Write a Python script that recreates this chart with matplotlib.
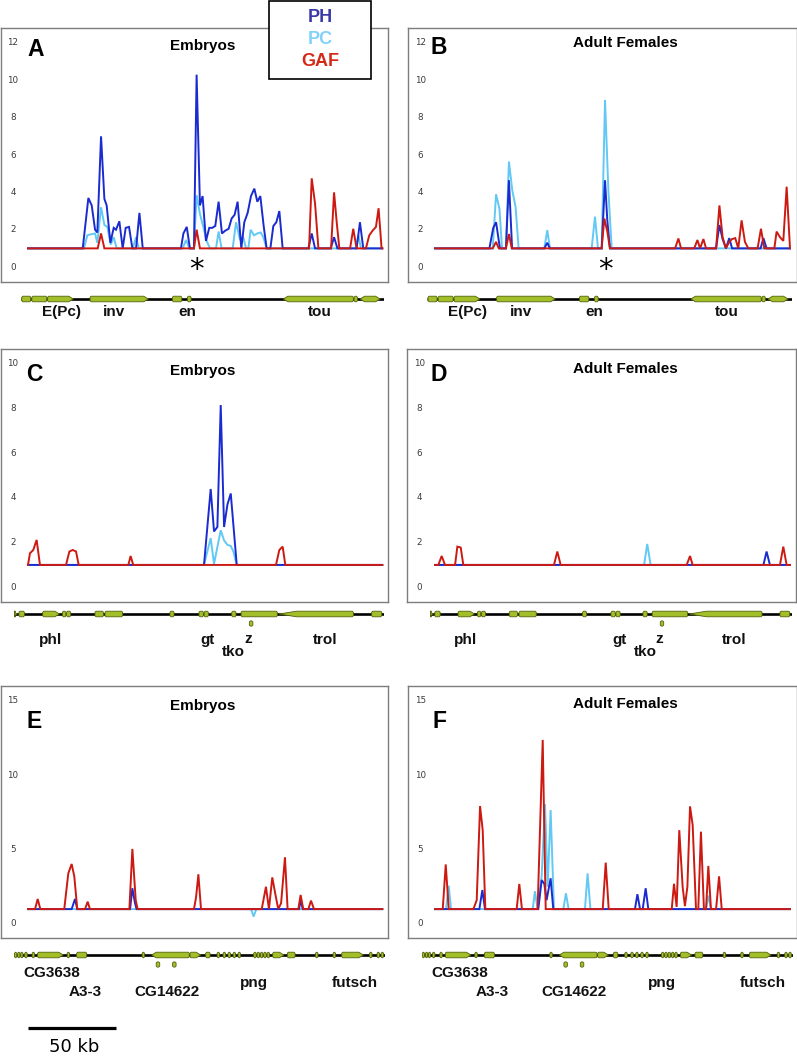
import matplotlib
matplotlib.use('Agg')
import matplotlib.pyplot as plt
from matplotlib.patches import Polygon, Rectangle
from matplotlib.lines import Line2D
from matplotlib.transforms import blended_transform_factory

# ---------------- DATA (positions in kb, values = enrichment) ----------------
# Panel A (Embryos, en/inv region)
PH_A_x = [31.1, 34.3, 36.2, 38.1, 39.4, 41.5, 43.4, 44.7, 46.8, 48.7, 50.0, 51.9, 53.8, 55.5, 57.4, 59.3,
          61.4, 63.3, 65.2, 86.9, 88.3, 90.2, 92.0, 94.3, 95.8, 97.7, 99.2, 101.1, 103.0, 104.7, 106.4,
          108.3, 110.2, 112.1, 114.0, 115.7, 117.4, 119.1, 121.2, 122.9, 124.8, 126.7, 128.6, 130.3,
          132.0, 133.9, 135.6, 137.7, 139.4, 141.1, 142.8, 144.7, 159.3, 161.2, 163.1, 172.0, 173.9,
          175.8, 186.7, 188.6, 190.5]
PH_A_y = [1.0, 3.7, 3.3, 2.0, 1.85, 7.0, 3.65, 3.3, 1.3, 2.1, 2.0, 2.45, 1.0, 2.1, 2.15, 1.0,
          1.0, 2.9, 1.0, 1.0, 1.8, 2.15, 1.0, 1.0, 10.3, 3.3, 3.8, 1.4, 2.1, 2.1, 2.2,
          3.5, 1.8, 1.95, 2.05, 2.6, 2.8, 3.5, 1.0, 2.4, 2.9, 3.8, 4.2, 3.5,
          3.8, 2.2, 1.0, 1.0, 2.2, 2.4, 3.0, 1.0, 1.0, 1.8, 1.0, 1.0, 1.6,
          1.0, 1.0, 2.4, 1.0]
PC_A_x = [31.8, 33.7, 35.6, 38.1, 39.4, 41.5, 43.4, 45.1, 47.0, 48.7, 50.4, 59.5, 61.4, 62.9, 87.9,
          89.8, 91.7, 94.3, 95.8, 97.7, 99.6, 101.5, 103.4, 106.8, 108.3, 110.0, 116.3, 118.2, 120.5,
          122.3, 123.9, 125.2, 126.5, 128.4, 130.3, 132.2, 133.7, 135.6, 186.4, 187.7, 189.2]
PC_A_y = [1.0, 1.7, 1.75, 1.8, 1.3, 3.2, 2.25, 2.15, 1.2, 1.6, 1.0, 1.0, 1.6, 1.0, 1.0,
          1.45, 1.0, 1.0, 3.85, 2.85, 2.15, 1.4, 1.0, 1.0, 1.9, 1.0, 1.0, 2.4, 1.45,
          1.6, 1.0, 1.0, 2.0, 1.7, 1.8, 1.85, 1.6, 1.0, 1.0, 1.7, 1.0]
GAF_A_x = [39.6, 41.5, 43.4, 94.3, 95.8, 97.7, 159.7, 161.2, 163.1, 165.0, 172.2, 173.9, 175.4, 176.9,
           183.0, 184.8, 186.7, 192.0, 193.9, 195.8, 197.7, 199.2, 200.9]
GAF_A_y = [1.0, 1.8, 1.0, 1.0, 2.0, 1.0, 1.0, 4.75, 3.4, 1.0, 1.0, 4.0, 2.4, 1.0,
           1.0, 2.05, 1.0, 1.0, 1.7, 1.95, 2.15, 3.15, 1.0]

# Panel B (Adult females, en/inv region)
PH_B_x = [30.9, 33.1, 34.7, 36.9, 40.3, 42.0, 43.8, 62.1, 63.8, 65.3, 94.7, 96.6, 97.9, 99.4,
          159.7, 161.6, 163.4, 165.3, 167.2, 168.8, 185.0, 186.6, 188.4]
PH_B_y = [1.0, 2.1, 2.4, 1.0, 1.0, 4.65, 1.0, 1.0, 1.3, 1.0, 1.0, 4.65, 2.5, 1.0,
          1.0, 2.25, 1.5, 1.0, 1.55, 1.0, 1.0, 1.55, 1.0]
PC_B_x = [32.8, 34.7, 36.6, 38.1, 40.3, 42.0, 43.9, 45.8, 47.5, 62.1, 63.8, 65.3, 89.0, 90.9, 92.6,
          94.7, 96.6, 98.5, 100.4]
PC_B_y = [1.0, 3.9, 3.13, 1.0, 1.0, 5.65, 4.12, 3.2, 1.0, 1.0, 1.98, 1.0, 1.0, 2.7, 1.0,
          1.0, 8.95, 4.1, 1.0]
GAF_B_x = [32.8, 34.7, 36.2, 40.3, 42.0, 43.6, 94.7, 96.2, 97.9, 99.4, 136.4, 138.3, 139.8, 147.3,
           149.1, 150.6, 152.5, 154.0, 159.7, 161.6, 163.4, 165.3, 167.2, 168.8, 170.6, 172.3, 174.2,
           176.1, 178.0, 183.3, 185.2, 187.1, 192.8, 194.1, 196.0, 197.9, 199.8, 201.7]
GAF_B_y = [1.0, 1.35, 1.0, 1.0, 1.77, 1.0, 1.0, 2.6, 1.9, 1.0, 1.0, 1.53, 1.0, 1.0,
           1.45, 1.0, 1.5, 1.0, 1.0, 3.3, 1.6, 1.0, 1.35, 1.5, 1.55, 1.0, 2.5,
           1.35, 1.0, 1.0, 2.05, 1.0, 1.0, 1.9, 1.6, 1.4, 4.3, 1.0]

# Panel C (Embryos, gt/z region)
PH_C_x = [100.0, 103.8, 105.7, 107.6, 109.5, 111.4, 113.3, 115.2, 118.6]
PH_C_y = [1.0, 4.4, 2.5, 2.7, 8.16, 2.7, 3.7, 4.2, 1.0]
PC_C_x = [100.0, 103.8, 105.7, 109.5, 111.4, 113.3, 115.2, 116.7, 118.6]
PC_C_y = [1.0, 2.2, 1.05, 2.55, 2.1, 1.9, 1.85, 1.6, 1.0]
GAF_C_x = [0.0, 1.1, 3.0, 4.9, 6.8, 21.6, 23.5, 25.4, 27.3, 28.8, 57.0, 58.3, 59.8, 140.9, 142.8,
           144.7, 146.2]
GAF_C_y = [1.0, 1.52, 1.67, 2.12, 1.0, 1.0, 1.6, 1.67, 1.6, 1.0, 1.0, 1.4, 1.0, 1.0, 1.67,
           1.82, 1.0]

# Panel D (Adult females, gt/z region)
PH_D_x = [186.6, 188.4, 190.3]
PH_D_y = [1.0, 1.6, 1.0]
PC_D_x = [118.8, 120.6, 122.5]
PC_D_y = [1.0, 1.94, 1.0]
GAF_D_x = [1.9, 3.8, 5.7, 11.4, 12.7, 14.6, 16.1, 67.6, 69.5, 71.4, 143.0, 144.9, 146.4, 196.0,
           197.9, 199.8]
GAF_D_y = [1.0, 1.4, 1.0, 1.0, 1.82, 1.78, 1.0, 1.0, 1.6, 1.0, 1.0, 1.4, 1.0, 1.0, 1.82, 1.0]

# Panel E (Embryos, png region)
PH_E_x = [24.8, 26.7, 28.0, 58.0, 59.3, 60.8, 61.7, 154.0, 154.9, 156.1]
PH_E_y = [1.0, 1.68, 1.0, 1.0, 2.4, 1.4, 1.0, 1.0, 1.6, 1.0]
PC_E_x = [126.7, 128.2, 129.7]
PC_E_y = [1.0, 0.5, 1.0]
GAF_E_x = [4.0, 5.5, 7.0, 20.6, 22.9, 24.8, 26.3, 28.0, 32.4, 33.9, 35.2, 57.6, 59.3, 61.2, 62.3,
           94.3, 95.5, 96.8, 98.3, 132.8, 135.2, 136.9, 138.8, 140.7, 142.2, 143.8, 146.0, 147.5,
           153.6, 154.9, 156.4, 159.3, 160.8, 162.5]
GAF_E_y = [1.0, 1.68, 1.0, 1.0, 3.4, 4.03, 3.2, 1.0, 1.0, 1.5, 1.0, 1.0, 5.04, 1.6, 1.0,
           1.0, 1.8, 3.34, 1.0, 1.0, 2.5, 1.0, 3.13, 1.9, 1.0, 1.4, 4.48, 1.0,
           1.0, 1.95, 1.0, 1.0, 1.57, 1.0]

# Panel F (Adult females, png region)
PH_F_x = [25.2, 26.9, 28.4, 58.7, 60.6, 62.1, 63.4, 65.7, 67.2, 113.6, 115.0, 116.5, 118.0, 119.7, 121.2]
PH_F_y = [1.0, 2.28, 1.0, 1.0, 2.95, 2.7, 1.6, 3.07, 1.0, 1.0, 2.0, 1.0, 1.0, 2.4, 1.0]
PC_F_x = [6.25, 7.8, 9.1, 55.5, 56.8, 58.3, 60.6, 62.5, 64.0, 65.7, 67.6, 72.9, 74.4, 75.9, 85.2,
          86.7, 88.3, 154.0, 155.3, 156.8]
PC_F_y = [1.0, 2.57, 1.0, 1.0, 2.2, 1.0, 3.2, 8.05, 2.5, 7.65, 1.0, 1.0, 2.06, 1.0, 1.0,
          3.4, 1.0, 1.0, 1.9, 1.0]
GAF_F_x = [4.4, 6.1, 7.8, 21.8, 23.7, 25.6, 27.1, 28.6, 46.4, 47.9, 49.4, 58.3, 61.2, 62.9, 95.3,
           97.0, 98.7, 134.5, 135.8, 137.3, 138.8, 140.7, 142.0, 143.4, 144.9, 146.4, 148.3, 149.6,
           151.1, 152.8, 154.0, 155.3, 156.8, 159.7, 161.4, 162.9]
GAF_F_y = [1.0, 4.0, 1.0, 1.0, 1.6, 7.92, 6.3, 1.0, 1.0, 2.69, 1.0, 1.0, 12.36, 1.0, 1.0,
           4.12, 1.0, 1.0, 2.7, 1.15, 6.3, 2.5, 1.2, 2.5, 7.9, 6.65, 1.0, 1.0,
           6.2, 1.0, 1.0, 3.9, 1.0, 1.0, 3.2, 1.0]

# Gene models (track-local kb): (start, end, shape)  r=round, tr=taper right, tl=taper left, tb=both
GENES_1 = [(0.6, 5.7, 'r'), (6.3, 14.8, 'r'), (15.3, 29.9, 'tr'), (39.4, 72.5, 'tr'),
           (86.2, 91.5, 'r'), (94.7, 96.8, 'r'), (149.2, 189.0, 'tl'), (189.4, 191.3, 'r'),
           (192.8, 204.2, 'tb')]
LABELS_1 = ['E(Pc)', 'inv', 'en', 'tou']
LABX_1 = [22.9, 53.0, 94.7, 169.7]
LABDY_1 = [13, 13, 13, 13]
GENES_2 = [(0.4, 1.9, 'tr'), (2.8, 5.9, 'r'), (16.3, 25.8, 'tr'), (27.5, 29.5, 'r'), (29.9, 32.2, 'r'),
           (46.0, 50.8, 'r'), (51.7, 61.7, 'r'), (88.6, 90.9, 'r'), (105.1, 107.6, 'r'),
           (108.0, 110.4, 'r'), (123.7, 126.1, 'r'), (129.0, 149.6, 'r'), (150.5, 192.8, 'tl2'),
           (203.2, 208.9, 'r')]
GENES_2_BELOW = [134.7]
LABELS_2 = ['phl', 'gt', 'tko', 'z', 'trol']
LABX_2 = [20.8, 109.8, 124.8, 133.3, 176.7]
LABDY_2 = [26, 26, 38, 25, 26]
GENES_3 = [(0.3, 1.6, 'r'), (2.1, 3.4, 'r'), (3.8, 5.1, 'r'), (6.1, 7.5, 'r'), (10.3, 11.7, 'r'),
           (13.4, 28.0, 'tr'), (30.2, 31.6, 'r'), (35.6, 41.3, 'r'), (72.8, 74.2, 'r'),
           (78.2, 99.6, 'tl'), (100.0, 106.1, 'tr'), (108.9, 111.4, 'r'), (115.4, 116.8, 'r'),
           (118.8, 120.2, 'r'), (121.6, 123.0, 'r'), (124.5, 125.9, 'r'), (127.3, 128.7, 'r'),
           (136.2, 137.6, 'r'), (138.1, 139.5, 'r'), (140.0, 141.4, 'r'), (141.9, 143.3, 'r'),
           (143.8, 145.2, 'r'), (147.0, 153.4, 'tr'), (155.3, 159.7, 'r'), (171.3, 172.7, 'r'),
           (181.3, 182.7, 'r'), (186.2, 198.5, 'tr'), (202.0, 203.4, 'r'), (206.3, 207.7, 'r'),
           (208.6, 210.0, 'r')]
GENES_3_BELOW = [81.8, 91.1]
LABELS_3 = ['CG3638', 'A3-3', 'CG14622', 'png', 'futsch']
LABX_3 = [21.4, 40.3, 86.7, 136.4, 193.8]
LABDY_3 = [18, 37, 37, 28, 28]

SERIES_NAMES = ['PH', 'PC', 'GAF']

# ---------------- STYLE ----------------
W, H = 797, 1056
fig = plt.figure(figsize=(W / 100, H / 100), dpi=100)
C_PH, C_PC, C_GAF = '#1a2bd0', '#62c8f4', '#cc1a12'
LEG_COL = {'PH': '#3a3aa6', 'PC': '#80d2fa', 'GAF': '#d32a18'}
GREEN, GEDGE = '#a2be28', '#52620c'
BOLD = dict(family='Liberation Sans', fontweight='bold')


def px_axes(x0, y0, x1, y1, **kw):
    return fig.add_axes([x0 / W, 1 - y1 / H, (x1 - x0) / W, (y1 - y0) / H], **kw)


def ftext(x, y, s, **kw):
    return fig.text(x / W, 1 - y / H, s, **kw)


panels = [
    dict(box=(0.5, 28, 388, 282), x0=28, end=201.3, ylim=(-0.80, 12.80), ticks=[0, 2, 4, 6, 8, 10, 12],
         s=(PH_A_x, PH_A_y, PC_A_x, PC_A_y, GAF_A_x, GAF_A_y), L='A', Lp=(27, 50), T='Embryos', Tp=(203, 46),
         ast=95.8),
    dict(box=(408, 28, 796.5, 282), x0=435, end=201.7, ylim=(-0.80, 12.80), ticks=[0, 2, 4, 6, 8, 10, 12],
         s=(PH_B_x, PH_B_y, PC_B_x, PC_B_y, GAF_B_x, GAF_B_y), L='B', Lp=(430, 47.5), T='Adult Females',
         Tp=(625, 43), ast=96.8),
    dict(box=(0.5, 349, 388, 602), x0=28, end=201.3, ylim=(-0.66, 10.67), ticks=[0, 2, 4, 6, 8, 10],
         s=(PH_C_x, PH_C_y, PC_C_x, PC_C_y, GAF_C_x, GAF_C_y), L='C', Lp=(26, 374.5), T='Embryos',
         Tp=(203, 371), ast=None),
    dict(box=(407, 349, 796.5, 602), x0=435, end=201.7, ylim=(-0.66, 10.67), ticks=[0, 2, 4, 6, 8, 10],
         s=(PH_D_x, PH_D_y, PC_D_x, PC_D_y, GAF_D_x, GAF_D_y), L='D', Lp=(431, 374), T='Adult Females',
         Tp=(625, 369), ast=None),
    dict(box=(0.5, 686, 388, 938), x0=28, end=201.3, ylim=(-0.94, 15.98), ticks=[0, 5, 10, 15],
         s=(PH_E_x, PH_E_y, PC_E_x, PC_E_y, GAF_E_x, GAF_E_y), L='E', Lp=(27, 722), T='Embryos',
         Tp=(203, 706), ast=None),
    dict(box=(408, 686, 796.5, 938), x0=435, end=201.7, ylim=(-0.94, 15.98), ticks=[0, 5, 10, 15],
         s=(PH_F_x, PH_F_y, PC_F_x, PC_F_y, GAF_F_x, GAF_F_y), L='F', Lp=(433, 721), T='Adult Females',
         Tp=(625, 704), ast=None),
]

PXKB = 1.76  # pixels per kb (50 kb scale bar = 88 px)

for p in panels:
    x0, y0, x1, y1 = p['box']
    ax = px_axes(x0, y0, x1, y1)
    ax.set_xlim((x0 - p['x0']) / PXKB, (x1 - p['x0']) / PXKB)
    ax.set_ylim(*p['ylim'])
    ax.set_xticks([])
    ax.set_yticks([])
    for sp in ax.spines.values():
        sp.set_color('#7d7d7d')
        sp.set_linewidth(1.0)
    phx, phy, pcx, pcy, gx, gy = p['s']
    for xs, ys, col, z in ((pcx, pcy, C_PC, 2), (phx, phy, C_PH, 3), (gx, gy, C_GAF, 4)):
        X = [0.0] + list(xs) + [p['end']]
        Y = [1.0] + list(ys) + [1.0]
        ax.plot(X, Y, color=col, lw=1.4, zorder=z, solid_joinstyle='miter')
    tr = blended_transform_factory(ax.transAxes, ax.transData)
    for t in p['ticks']:
        ax.text(12.5 / (x1 - x0), t, str(t), transform=tr, ha='center', va='center',
                fontsize=6.3, color='#3a3a3a', family='DejaVu Sans')
    if p['ast'] is not None:
        ax.text(p['ast'], -0.15, '*', ha='center', va='center', fontsize=21, color='black',
                family='DejaVu Sans')
    ftext(p['Lp'][0], p['Lp'][1], p['L'], ha='left', va='center', fontsize=16.5, color='black', **BOLD)
    ftext(p['Tp'][0], p['Tp'][1], p['T'], ha='center', va='center', fontsize=11, color='black', **BOLD)


def gene_poly(s, e, shape, h=2.8, yc=0.0):
    c = 0.6
    t = 2.6
    if shape == 'r':
        pts = [(s, -h + 1), (s + c, -h), (e - c, -h), (e, -h + 1), (e, h - 1), (e - c, h), (s + c, h), (s, h - 1)]
    elif shape == 'tr':
        pts = [(s, -h + 1), (s + c, -h), (e - t, -h), (e, 0), (e - t, h), (s + c, h), (s, h - 1)]
    elif shape == 'tl':
        pts = [(s, 0), (s + t, -h), (e - c, -h), (e, -h + 1), (e, h - 1), (e - c, h), (s + t, h)]
    elif shape == 'tl2':
        pts = [(s, 0), (s + 10, -h), (e - c, -h), (e, -h + 1), (e, h - 1), (e - c, h), (s + 10, h)]
    else:
        pts = [(s, 0), (s + t, -h), (e - t, -h), (e, 0), (e - t, h), (s + t, h)]
    pts = [(x, y + yc) for x, y in pts]
    return Polygon(pts, closed=True, facecolor=GREEN, edgecolor=GEDGE, lw=0.6, zorder=3)


tracks = [
    (GENES_1, [], LABELS_1, LABX_1, LABDY_1, 206.4, [(20.7, 384, 299), (427, 792, 299)]),
    (GENES_2, GENES_2_BELOW, LABELS_2, LABX_2, LABDY_2, 210.2, [(14, 384, 614), (430, 792, 614)]),
    (GENES_3, GENES_3_BELOW, LABELS_3, LABX_3, LABDY_3, 210.8, [(14, 385, 955), (421.7, 792.7, 955)]),
]

for genes, below, labs, labx, labdy, L, spots in tracks:
    for (tx0, tx1, cy) in spots:
        ax = px_axes(tx0, cy - 10, tx1, cy + 45)
        ax.set_xlim(0, L)
        ax.set_ylim(-45, 10)
        ax.axis('off')
        ax.plot([0, L], [0, 0], color='black', lw=1.9, zorder=2, solid_capstyle='butt')
        for s, e, shp in genes:
            ax.add_patch(gene_poly(s, e, shp))
        for b in below:
            ax.add_patch(gene_poly(b - 1.0, b + 1.0, 'r', h=2.6, yc=-9.5))
        for lab, lx, dy in zip(labs, labx, labdy):
            ax.text(lx, -dy, lab, ha='center', va='center', fontsize=11, color='#111111', **BOLD)

# Legend box
fig.add_artist(Rectangle((269 / W, 1 - 79 / H), 102 / W, 78 / H, transform=fig.transFigure,
                         facecolor='white', edgecolor='black', lw=1.2, zorder=10))
for name, yy in zip(SERIES_NAMES, [18, 40, 62]):
    t = ftext(320, yy, name, ha='center', va='center', fontsize=13, color=LEG_COL[name], **BOLD)
    t.set_zorder(11)

# Scale bar
fig.add_artist(Line2D([28 / W, 116 / W], [1 - 1028 / H, 1 - 1028 / H], transform=fig.transFigure,
                      color='black', lw=2.3, solid_capstyle='butt'))
ftext(74, 1047, '50 kb', ha='center', va='center', fontsize=13, color='black', family='DejaVu Sans')

fig.savefig('out.png', dpi=100, facecolor='white')
